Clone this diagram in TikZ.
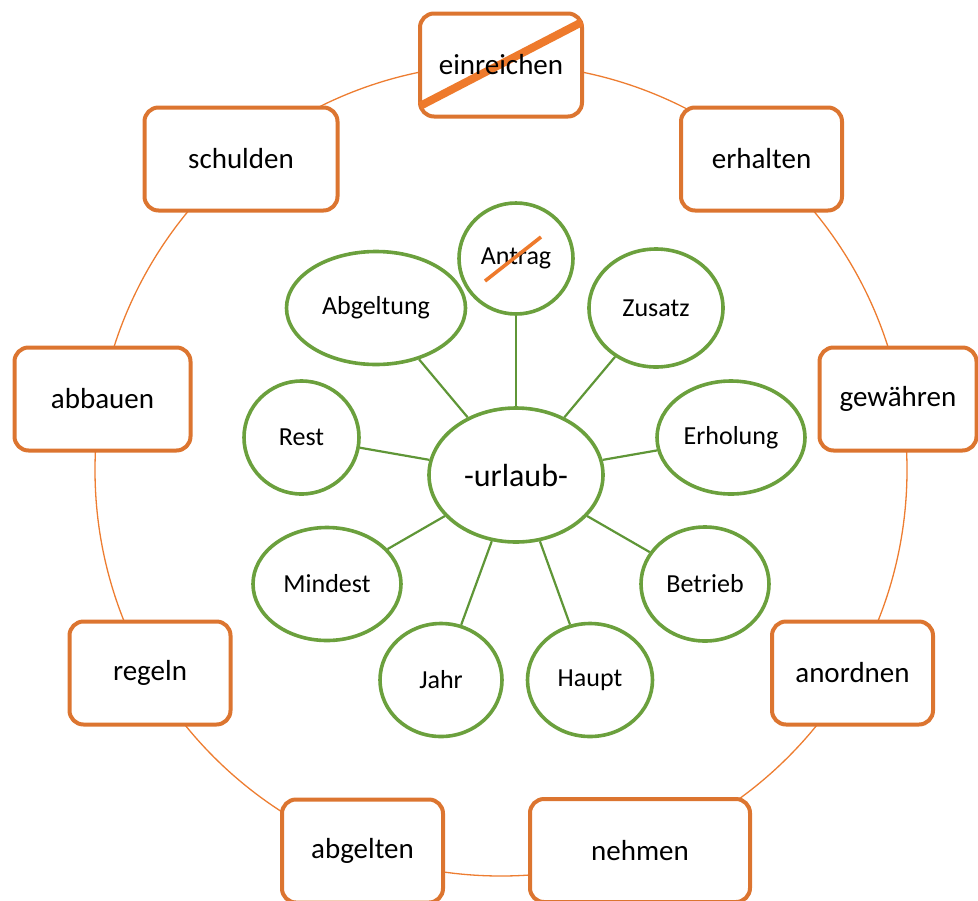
\documentclass[tikz,border=0pt]{standalone}
\usepackage{fontspec}
\setmainfont{Carlito}
\usetikzlibrary{shapes.geometric}
\definecolor{boxorange}{HTML}{DC7530}
\definecolor{ringorange}{HTML}{ED7D31}
\definecolor{strikeorange}{HTML}{EE7A2C}
\definecolor{leafgreen}{HTML}{6BA03D}
\definecolor{stemgreen}{HTML}{5F9637}
\newdimen\px
\px=0.75pt
\tikzset{
  verbfont/.style={font=\fontsize{21.75pt}{26pt}\selectfont},
  verb/.style={rectangle, rounded corners=14\px, draw=boxorange, line width=4\px,
    fill=white, inner sep=0pt, verbfont},
  verbtext/.style={inner sep=0pt, verbfont},
  leaf/.style={ellipse, draw=leafgreen, line width=3.6\px, fill=white,
    inner sep=0pt, font=\fontsize{19.5pt}{23pt}\selectfont},
  hub/.style={leaf, font=\fontsize{24pt}{28pt}\selectfont},
  ring/.style={draw=ringorange, line width=1.3\px},
  stem/.style={draw=stemgreen, line width=2.2\px},
  strike/.style={draw=strikeorange}
}
\begin{document}
\begin{tikzpicture}[x=0.75pt, y=-0.75pt]
\useasboundingbox (0,0) rectangle (978,900);

% outer ring linking the verbs
\draw[ring] (501,470) circle[radius=304.5pt];

% verbs around the ring
\node[verb, minimum width=162\px, minimum height=103\px] (ein) at (501,65) {};
\node[verb, minimum width=161\px, minimum height=103\px] (erh) at (761.5,159) {erhalten};
\node[verb, minimum width=157\px, minimum height=103\px] (gew) at (898,399) {gewähren};
\node[verb, minimum width=161\px, minimum height=103\px] (ano) at (852.5,673) {anordnen};
\node[verb, minimum width=220\px, minimum height=103\px] (neh) at (640,850.5) {nehmen};
\node[verb, minimum width=161\px, minimum height=103\px] (abg) at (362.5,851) {abgelten};
\node[verb, minimum width=161\px, minimum height=103\px] (reg) at (150,673) {regeln};
\node[verb, minimum width=176\px, minimum height=103\px] (abb) at (102.5,399) {abbauen};
\node[verb, minimum width=193\px, minimum height=103\px] (sch) at (241,159) {schulden};

% struck-out verb: the bar lies under the word
\coordinate (e1) at ([shift={(-81,41)}]ein.center);
\coordinate (e2) at ([shift={(81,-43)}]ein.center);
\draw[strike, line width=8\px] (e1) -- (e2);
\node[verbtext] (eintext) at (ein.center) {einreichen};

% word parts around the hub
\node[hub, minimum width=174\px, minimum height=134\px] (url) at (516,475) {-urlaub-};
\node[leaf, minimum width=114\px, minimum height=111\px] (ant) at (516,258.5) {Antrag};
\node[leaf, minimum width=134\px, minimum height=118\px] (zus) at (656,308) {Zusatz};
\node[leaf, minimum width=179\px, minimum height=113\px] (abt) at (376,308) {Abgeltung};
\node[leaf, minimum width=115\px, minimum height=113\px] (res) at (301.5,437.5) {Rest};
\node[leaf, minimum width=148\px, minimum height=113\px] (erho) at (731,437.5) {Erholung};
\node[leaf, minimum width=148\px, minimum height=113\px] (min) at (327,584) {Mindest};
\node[leaf, minimum width=128\px, minimum height=114\px] (bet) at (705,584) {Betrieb};
\node[leaf, minimum width=122\px, minimum height=113\px] (jah) at (441,680) {Jahr};
\node[leaf, minimum width=125\px, minimum height=113\px] (hau) at (590,680) {Haupt};

% spokes from the hub
\foreach \n in {ant,zus,abt,res,erho,min,bet,jah,hau}
  \draw[stem] (url) -- (\n);

% struck-out word part
\coordinate (a1) at ([shift={(-31,22.5)}]ant.center);
\coordinate (a2) at ([shift={(25,-21.5)}]ant.center);
\draw[strike, line width=3.6\px] (a1) -- (a2);
\end{tikzpicture}
\end{document}
